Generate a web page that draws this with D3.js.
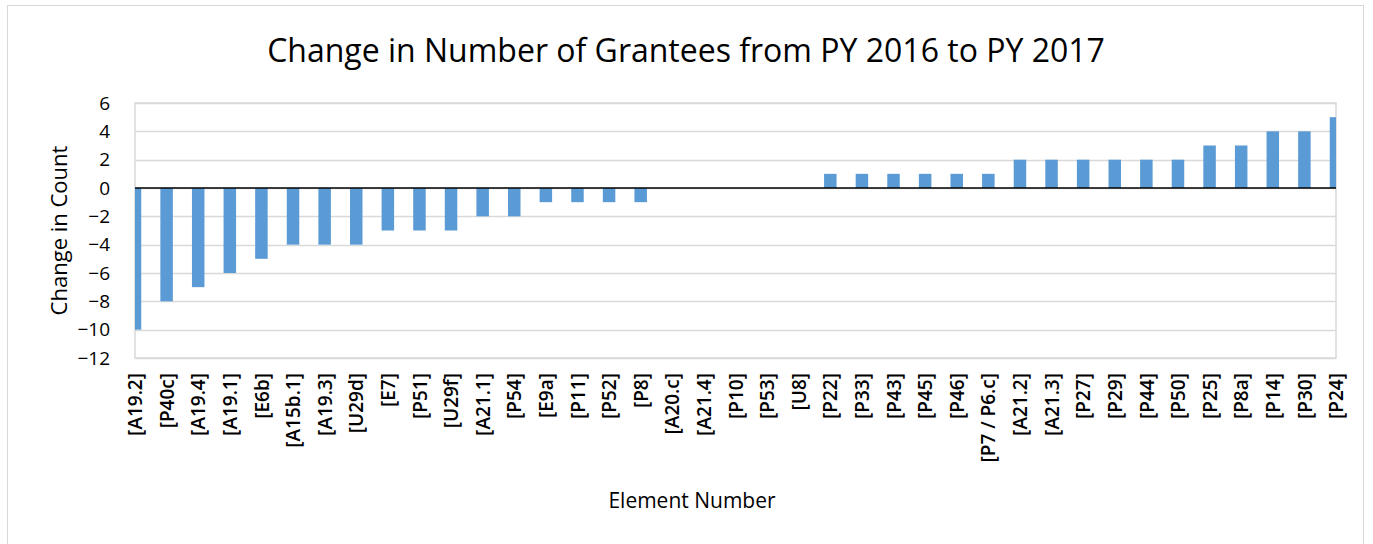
<!DOCTYPE html>
<html>
<head>
<meta charset="utf-8">
<script src="https://cdn.jsdelivr.net/npm/d3@7"></script>
<style>
  body { margin: 0; background: #fff; }
  text { font-family: "Open Sans", "Liberation Sans", sans-serif; fill: #000; }
</style>
</head>
<body>
<div id="chart"></div>
<script>
// categories and change values
var elements = ["[A19.2]", "[P40c]", "[A19.4]", "[A19.1]", "[E6b]", "[A15b.1]", "[A19.3]", "[U29d]",
  "[E7]", "[P51]", "[U29f]", "[A21.1]", "[P54]", "[E9a]", "[P11]", "[P52]", "[P8]",
  "[A20.c]", "[A21.4]", "[P10]", "[P53]", "[U8]",
  "[P22]", "[P33]", "[P43]", "[P45]", "[P46]", "[P7 / P6.c]",
  "[A21.2]", "[A21.3]", "[P27]", "[P29]", "[P44]", "[P50]",
  "[P25]", "[P8a]", "[P14]", "[P30]", "[P24]"];
var changes = [-10, -8, -7, -6, -5, -4, -4, -4,
  -3, -3, -3, -2, -2, -1, -1, -1, -1,
  0, 0, 0, 0, 0,
  1, 1, 1, 1, 1, 1,
  2, 2, 2, 2, 2, 2,
  3, 3, 4, 4, 5];
var yTicks = [6, 4, 2, 0, -2, -4, -6, -8, -10, -12];

var width = 1373, height = 544;
var plot = { left: 135, top: 103, right: 1336, bottom: 358 };

var svg = d3.select("#chart").append("svg")
  .attr("width", width)
  .attr("height", height);

// outer chart frame
svg.append("rect")
  .attr("x", 7.5).attr("y", 5.5)
  .attr("width", 1356).attr("height", 560)
  .attr("fill", "none").attr("stroke", "#d9d9d9");

var x = d3.scalePoint()
  .domain(elements)
  .range([plot.left, plot.right])
  .padding(0);

var y = d3.scaleLinear()
  .domain([-12, 6])
  .range([plot.bottom, plot.top]);

// gridlines
svg.append("g").selectAll("line")
  .data(yTicks)
  .enter().append("line")
  .attr("x1", plot.left).attr("x2", plot.right)
  .attr("y1", function (d) { return Math.round(y(d)) + 0.5; })
  .attr("y2", function (d) { return Math.round(y(d)) + 0.5; })
  .attr("stroke", "#d9d9d9").attr("stroke-width", 1.5);

// plot border
svg.append("rect")
  .attr("x", plot.left).attr("y", plot.top)
  .attr("width", plot.right - plot.left).attr("height", plot.bottom - plot.top)
  .attr("fill", "none").attr("stroke", "#d9d9d9").attr("stroke-width", 1.5);

svg.append("clipPath").attr("id", "clip")
  .append("rect")
  .attr("x", plot.left).attr("y", plot.top - 2)
  .attr("width", plot.right - plot.left).attr("height", plot.bottom - plot.top + 4);

var barW = 12.5;
svg.append("g").attr("clip-path", "url(#clip)")
  .selectAll("rect")
  .data(elements)
  .enter().append("rect")
  .attr("x", function (d) { return x(d) - barW / 2; })
  .attr("y", function (d, i) { return y(Math.max(0, changes[i])); })
  .attr("width", barW)
  .attr("height", function (d, i) { return Math.abs(y(changes[i]) - y(0)); })
  .attr("fill", "#5b9bd5");

// zero line
svg.append("line")
  .attr("x1", plot.left).attr("x2", plot.right)
  .attr("y1", y(0)).attr("y2", y(0))
  .attr("stroke", "#000").attr("stroke-width", 1.5);

// y axis labels
var yAxis = d3.axisLeft(y).tickValues(yTicks).tickSize(0).tickPadding(25);
var gy = svg.append("g")
  .attr("transform", "translate(" + plot.left + ",0)")
  .call(yAxis);
gy.select(".domain").remove();
gy.selectAll("text").style("font-size", "19px").style("font-family", "'Open Sans', sans-serif");

// x axis labels (rotated)
var xAxis = d3.axisBottom(x).tickSize(0).tickPadding(0);
var gx = svg.append("g")
  .attr("transform", "translate(0," + plot.bottom + ")")
  .call(xAxis);
gx.select(".domain").remove();
gx.selectAll("text")
  .attr("transform", "rotate(-90)")
  .attr("x", -15).attr("y", 0).attr("dy", "0.35em")
  .style("text-anchor", "end")
  .style("font-size", "19px")
  .style("font-weight", "600")
  .style("font-family", "'Open Sans', sans-serif");

// titles
svg.append("text")
  .attr("x", 686).attr("y", 62)
  .attr("text-anchor", "middle")
  .style("font-size", "32px")
  .text("Change in Number of Grantees from PY 2016 to PY 2017");

svg.append("text")
  .attr("transform", "translate(67," + (plot.top + plot.bottom) / 2 + ") rotate(-90)")
  .attr("text-anchor", "middle")
  .style("font-size", "22px")
  .text("Change in Count");

svg.append("text")
  .attr("x", 692).attr("y", 508)
  .attr("text-anchor", "middle")
  .style("font-size", "21px")
  .text("Element Number");
</script>
</body>
</html>
